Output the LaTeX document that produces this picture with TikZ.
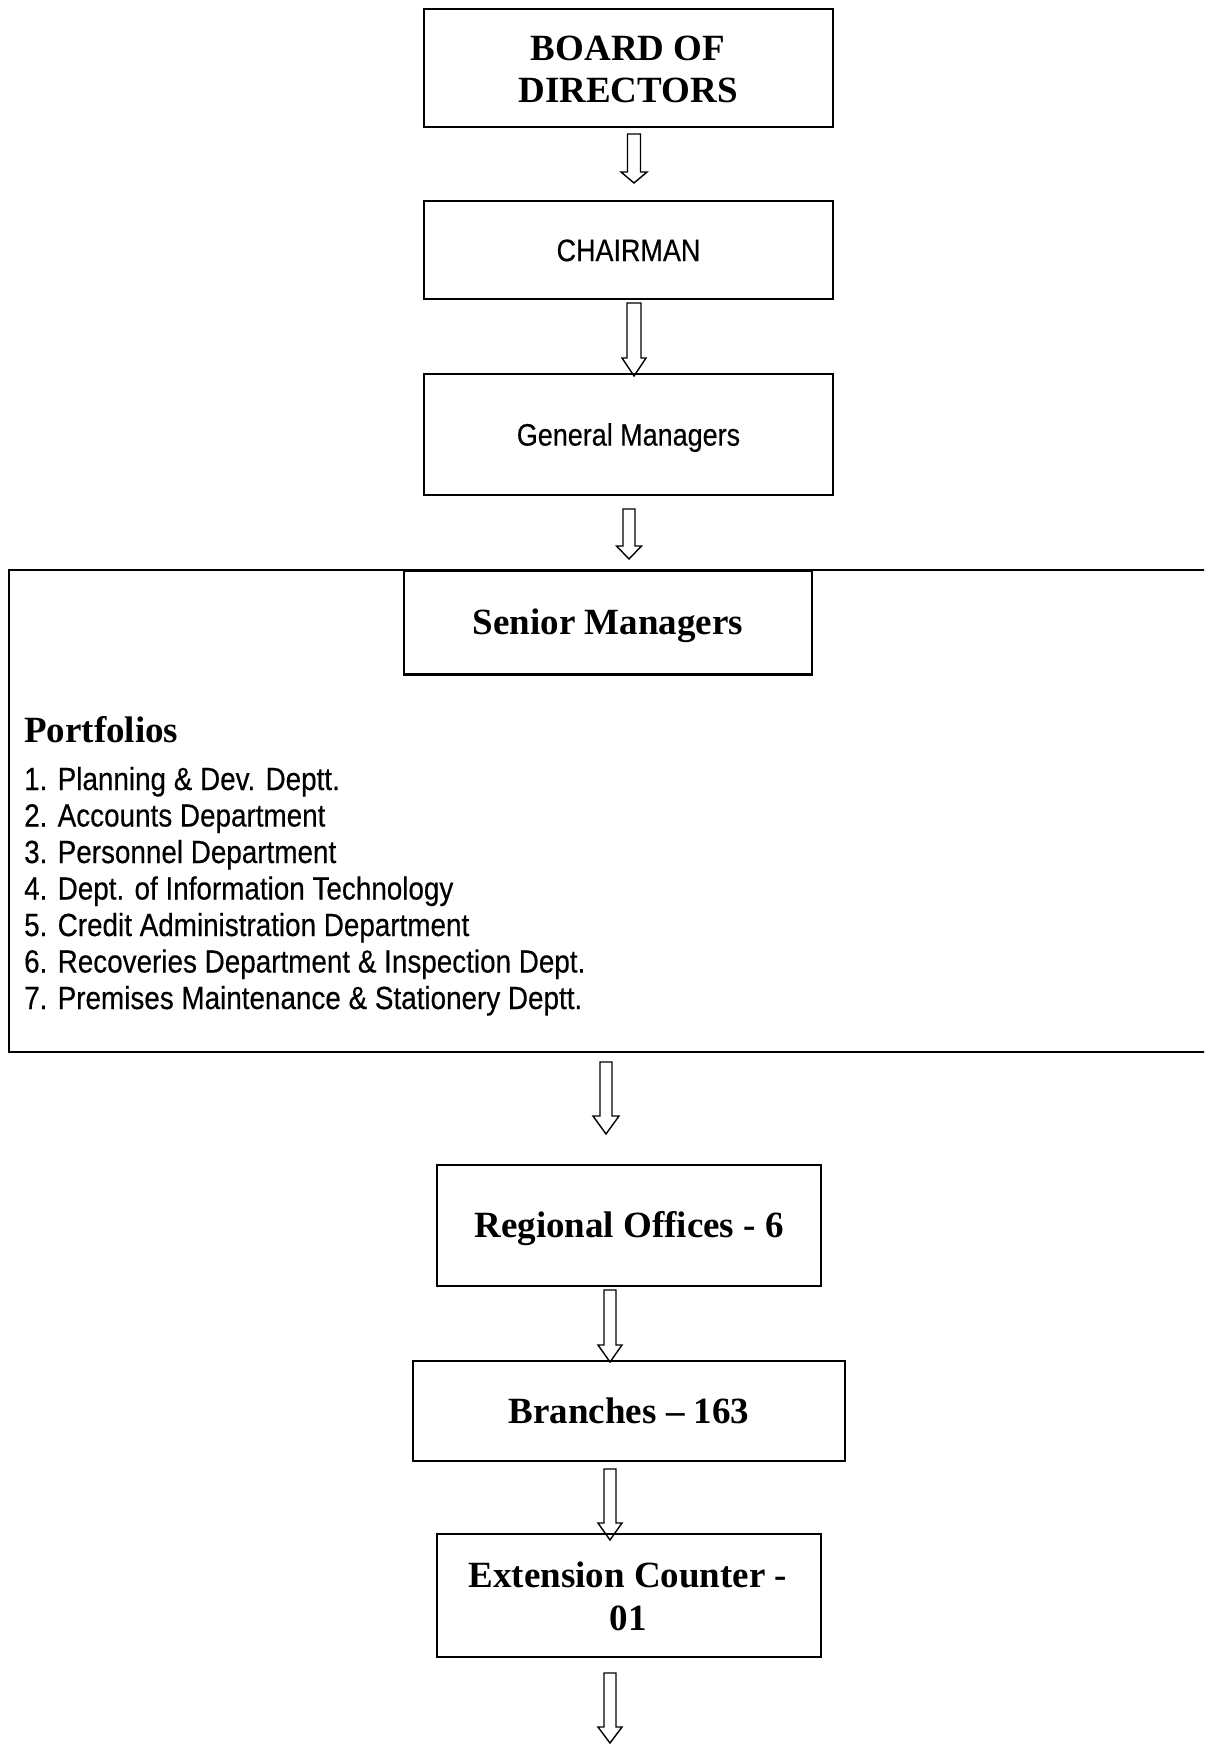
\documentclass[tikz,border=0pt]{standalone}
\usepackage{fontspec}
\setmainfont{Liberation Serif}
\newfontfamily\narrowsans[FakeStretch=0.87,FakeBold=0.35]{Liberation Sans}

\tikzset{
  box/.style={draw, line width=2.3pt, rectangle, inner sep=0pt},
  sanslabel/.style={font=\narrowsans\fontsize{31}{36}\selectfont, text height=22.2pt, text depth=0pt},
  seriflabel/.style={font=\bfseries\fontsize{37}{42}\selectfont, text height=24.5pt, text depth=0pt},
  serifline/.style={font=\bfseries\fontsize{37}{42}\selectfont, anchor=base, inner sep=0pt},
  listitem/.style={font=\narrowsans\fontsize{32}{36.5}\selectfont, anchor=base west, inner sep=0pt},
  blockarrow/.style={draw, line width=1.4pt, line join=miter},
}

% cx, top, head start, tip, shaft half width, head half width
\newcommand{\blockarr}[6]{%
  \draw[blockarrow] (#1-#5,#2) -- (#1+#5,#2) -- (#1+#5,#3) -- (#1+#6,#3) -- (#1,#4)
    -- (#1-#6,#3) -- (#1-#5,#3) -- cycle;}

\begin{document}
\begin{tikzpicture}[x=1pt,y=-1pt]
\useasboundingbox (0,0) rectangle (1204,1744);
\fill[white] (0,0) rectangle (1204,1744);
\clip (0,0) rectangle (1204,1744);

% boxes
\node[box, minimum width=409pt, minimum height=118pt] (board) at (628.5,68) {};
\node[serifline] (boardA) at (628,61) {BOARD OF};
\node[serifline] (boardB) at (628,103) {DIRECTORS};

\node[box, sanslabel, minimum width=409pt, minimum height=98pt] (chair) at (628.5,250) {CHAIRMAN};
\node[box, sanslabel, minimum width=409pt, minimum height=121pt] (gm) at (628.5,434.5) {General Managers};

\node[box, minimum width=1211pt, minimum height=482pt] (port) at (614.5,811) {};
\node[box, seriflabel, minimum width=408pt, minimum height=104pt] (senior) at (608,622.5) {Senior Managers};

\node[serifline, anchor=base west] (ptitle) at (24,742) {Portfolios};
\node[listitem] (l1) at (24,790) {1. Planning \& Dev. Deptt.};
\node[listitem] (l2) at (24,826.5) {2. Accounts Department};
\node[listitem] (l3) at (24,863) {3. Personnel Department};
\node[listitem] (l4) at (24,899.5) {4. Dept. of Information Technology};
\node[listitem] (l5) at (24,936) {5. Credit Administration Department};
\node[listitem] (l6) at (24,972.5) {6. Recoveries Department \& Inspection Dept.};
\node[listitem] (l7) at (24,1009) {7. Premises Maintenance \& Stationery Deptt.};

\node[box, seriflabel, minimum width=384pt, minimum height=121pt] (reg) at (629,1225.5) {Regional Offices - 6};
\node[box, seriflabel, minimum width=432pt, minimum height=100pt] (br) at (629,1411) {Branches – 163};
\node[box, minimum width=384pt, minimum height=123pt] (ext) at (629,1595.5) {};
\node[serifline] (extA) at (628,1587) {Extension Counter -};
\node[serifline] (extB) at (628,1630) {01};

% block arrows
\blockarr{634}{134}{172}{183}{6.5}{13}
\blockarr{634}{303}{358}{376}{7}{12}
\blockarr{629}{509}{546}{559}{6}{12.5}
\blockarr{606}{1062}{1116}{1134}{6}{13}
\blockarr{610}{1290}{1345}{1362}{6}{12}
\blockarr{610}{1469}{1523}{1540}{6}{12}
\blockarr{610}{1673}{1727}{1743}{6}{12}
\end{tikzpicture}
\end{document}
